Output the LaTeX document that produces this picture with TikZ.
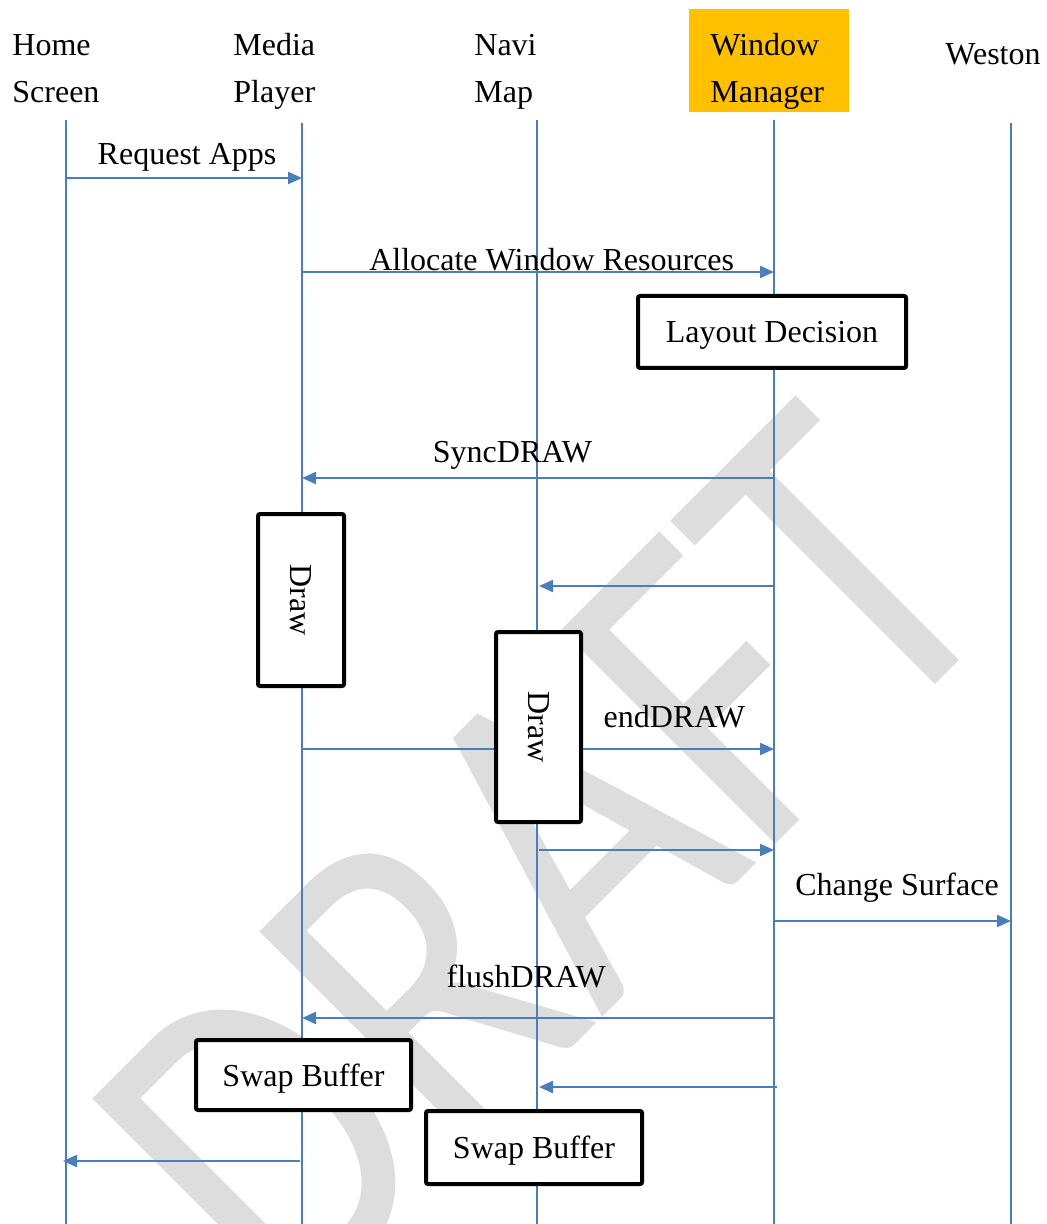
\documentclass[tikz,border=0pt]{standalone}
\usepackage{fontspec}
\setmainfont{Liberation Serif}
\newfontfamily\draftfont{Carlito}
\usepackage{tikz}
\usetikzlibrary{arrows.meta}
\definecolor{lineblue}{HTML}{4A7EBB}
\definecolor{wmorange}{HTML}{FFC000}
\definecolor{draftgray}{HTML}{DDDDDD}

\begin{document}
\begin{tikzpicture}[x=0.5pt, y=-0.5pt,
    font=\fontsize{16}{23.5}\selectfont,
    header/.style={anchor=base west, align=left, inner sep=0pt},
    lifeline/.style={draw=lineblue, line width=0.8pt},
    msg/.style={draw=lineblue, line width=1.1pt, -{Triangle[length=7pt, width=6pt]}},
    lbl/.style={anchor=base, inner sep=0pt},
    actbox/.style={draw, fill=white, line width=2pt, rounded corners=1pt, inner sep=0pt, text depth=0pt}]
  \useasboundingbox (0,0) rectangle (1046,1224);
  \clip (0,0) rectangle (1046,1224);

  % watermark
  \node[rotate=45, xscale=0.81, text=draftgray, inner sep=0pt,
        font=\draftfont\fontsize{236}{236}\selectfont] (draft) at (544,862) {DRAFT};

  % lifelines
  \foreach \n/\x/\y in {hs/66/120, mp/302/123, nm/537/120, wm/774/120, wn/1011/123}{
    \coordinate (\n) at (\x,\y);
    \draw[lifeline] (\n) -- (\x,1224);
  }

  % headers
  \fill[wmorange] (689,9) rectangle (849,112);
  \node[header] (hsHd) at (12,103) {Home\\Screen};
  \node[header] (mpHd) at (233,103) {Media\\Player};
  \node[header] (nmHd) at (474,103) {Navi\\Map};
  \node[header] (wmHd) at (710,103) {Window\\Manager};
  \node[header] (wnHd) at (945,65) {Weston};

  % messages
  \draw[msg] (hs |- 0,178) -- node[lbl, pos=.513, yshift=6.5pt] {Request Apps} (mp |- 0,178);
  \draw[msg] (mp |- 0,272) -- node[lbl, pos=.529, yshift=0.5pt] {Allocate Window Resources} (wm |- 0,272);
  \draw[msg] (wm |- 0,478) -- node[lbl, pos=.554, yshift=8pt] {SyncDRAW} (mp |- 0,478);
  \draw[msg] (wm |- 0,586) -- ([xshift=1pt]nm |- 0,586);
  \draw[msg] (mp |- 0,749) -- node[lbl, pos=.789, yshift=11pt] {endDRAW} (wm |- 0,749);
  \draw[msg] ([xshift=1pt]nm |- 0,850) -- (wm |- 0,850);
  \draw[msg] (wm |- 0,921) -- node[lbl, pos=.519, yshift=13pt] {Change Surface} (wn |- 0,921);
  \draw[msg] (wm |- 0,1018) -- node[lbl, pos=.525, yshift=15.5pt] {flushDRAW} (mp |- 0,1018);
  \draw[msg] ([xshift=1.5pt]wm |- 0,1087) -- ([xshift=1pt]nm |- 0,1087);
  \draw[msg] ([xshift=-1pt]mp |- 0,1161) -- ([xshift=-1.5pt]hs |- 0,1161);

  % activity boxes
  \node[actbox, minimum width=134pt, minimum height=36pt] (layout) at (772,332) {Layout Decision};
  \node[actbox, rotate=-90, minimum width=86pt, minimum height=43pt] (mpDraw) at (301,600) {Draw};
  \node[actbox, rotate=-90, minimum width=95pt, minimum height=42.5pt] (nmDraw) at (538.5,727) {Draw};
  \node[actbox, minimum width=107.5pt, minimum height=35pt] (mpSwap) at (303.5,1075) {Swap Buffer};
  \node[actbox, minimum width=108pt, minimum height=36.5pt] (nmSwap) at (534,1147.5) {Swap Buffer};
\end{tikzpicture}
\end{document}
